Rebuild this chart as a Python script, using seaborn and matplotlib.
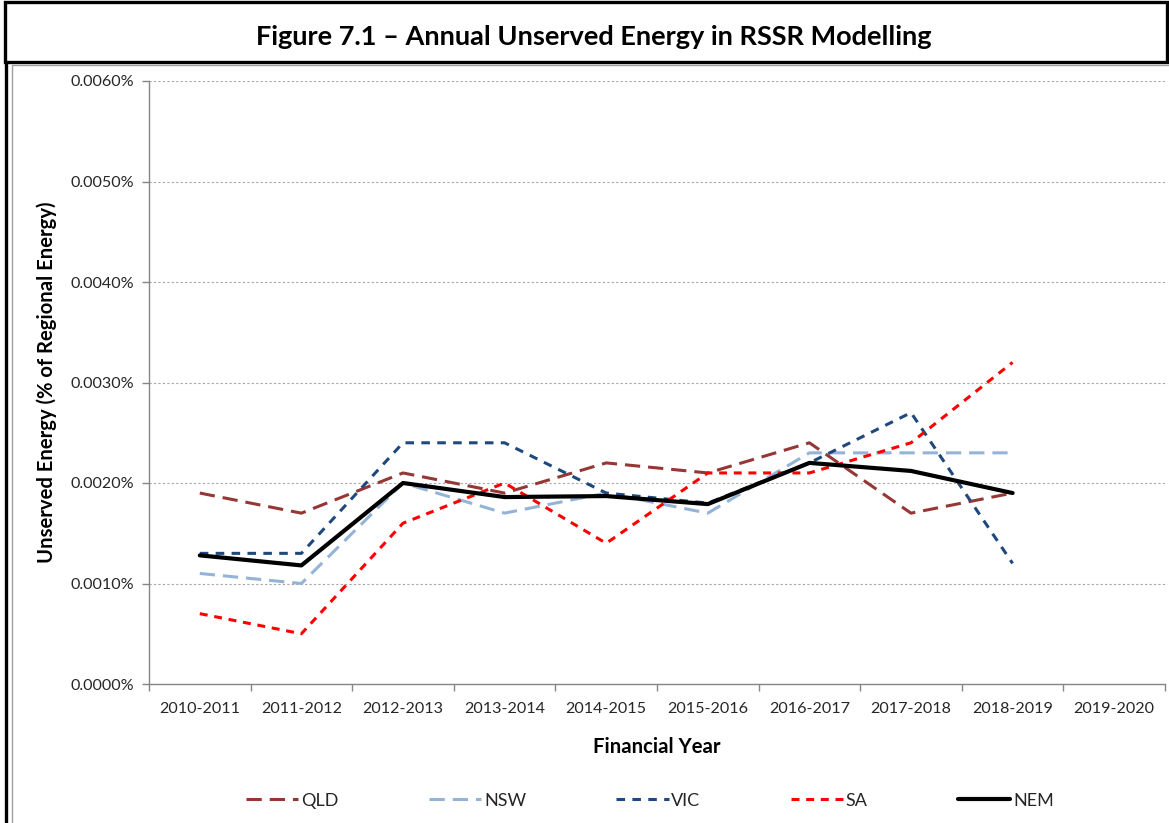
import matplotlib
matplotlib.use('Agg')
import matplotlib.pyplot as plt
import matplotlib.ticker as mticker
from matplotlib.patches import Rectangle
from matplotlib.lines import Line2D
import seaborn as sns
import numpy as np

# financial years on the x axis
years = ['2010-2011', '2011-2012', '2012-2013', '2013-2014', '2014-2015',
         '2015-2016', '2016-2017', '2017-2018', '2018-2019', '2019-2020']

# unserved energy, % of regional energy (no value for 2019-2020)
qld = [0.0019, 0.0017, 0.0021, 0.0019, 0.0022, 0.0021, 0.0024, 0.0017, 0.0019, np.nan]
nsw = [0.0011, 0.0010, 0.0020, 0.0017, 0.0019, 0.0017, 0.0023, 0.0023, 0.0023, np.nan]
vic = [0.0013, 0.0013, 0.0024, 0.0024, 0.0019, 0.0018, 0.0022, 0.0027, 0.0012, np.nan]
sa = [0.0007, 0.0005, 0.0016, 0.0020, 0.0014, 0.0021, 0.0021, 0.0024, 0.0032, np.nan]
nem = [0.00128, 0.00118, 0.0020, 0.00186, 0.00187, 0.00179, 0.0022, 0.00212, 0.0019, np.nan]

sns.set_theme(style='white')
plt.rcParams['font.family'] = ['Lato', 'DejaVu Sans']

fig = plt.figure(figsize=(11.69, 8.23), dpi=100)
ax = fig.add_axes([149 / 1169, 139 / 823, 1016 / 1169, 603 / 823])

xpos = np.arange(len(years))
series = [
    ('QLD', qld, '#953735', 2.2, (0, (5, 2.6))),
    ('NSW', nsw, '#95b3d7', 2.2, (0, (5, 2.6))),
    ('VIC', vic, '#1f497d', 2.2, (0, (2.8, 2.4))),
    ('SA', sa, '#ff0000', 2.2, (0, (2.6, 2.2))),
    ('NEM', nem, '#000000', 3.0, '-'),
]
for name, vals, col, lw, ls in series:
    sns.lineplot(x=xpos, y=vals, ax=ax, color=col, linewidth=lw,
                 linestyle=ls, label=name, legend=False)

# axes limits and ticks
ax.set_xlim(-0.5, len(years) - 0.5)
ax.set_ylim(0, 0.006)
ax.set_yticks(np.arange(0, 0.0061, 0.001))
ax.yaxis.set_major_formatter(mticker.FuncFormatter(lambda v, p: f'{v:.4f}%'))
ax.set_xticks(np.arange(-0.5, len(years), 1))
ax.set_xticklabels([])
ax.set_xticks(xpos, minor=True)
ax.set_xticklabels(years, minor=True)
ax.tick_params(axis='x', which='major', direction='out', length=5,
               width=1, color='#868686', bottom=True)
ax.tick_params(axis='x', which='minor', length=0, pad=13,
               labelsize=11.6, labelcolor='#262626')
ax.tick_params(axis='y', direction='out', length=5, width=1, color='#868686',
               left=True, pad=6, labelsize=11.6, labelcolor='#262626')

ax.yaxis.grid(True, color='#a6a6a6', linestyle=(0, (2, 2)), linewidth=0.8)
ax.xaxis.grid(False)
for s in ['top', 'right']:
    ax.spines[s].set_visible(False)
for s in ['left', 'bottom']:
    ax.spines[s].set_color('#868686')
    ax.spines[s].set_linewidth(1)

ax.set_xlabel('Financial Year', fontsize=14.6, fontweight='bold', color='black')
ax.set_ylabel('Unserved Energy (% of Regional Energy)', fontsize=14.6,
              fontweight='bold', color='black')
ax.xaxis.set_label_coords(0.5, -0.1045)
ax.xaxis.label.set_va('center')
ax.yaxis.set_label_coords(-0.1004, 0.5)
ax.yaxis.label.set_va('center')
ax.yaxis.label.set_ha('center')

# legend along the bottom
handles = [Line2D([], [], color=c, linewidth=lw, linestyle=ls) for _, _, c, lw, ls in series]
fig.legend(handles, [s[0] for s in series], loc='center', ncol=5,
           bbox_to_anchor=(0.556, 0.027), frameon=False, fontsize=13,
           handlelength=2.9, handletextpad=0.15, columnspacing=5.0)

# title box and borders
fig.add_artist(Rectangle((5 / 1169, 761 / 823), 1162 / 1169, 60 / 823,
                         transform=fig.transFigure, fill=False,
                         edgecolor='black', linewidth=2.4))
fig.add_artist(Line2D([6 / 1169, 6 / 1169], [0, 761 / 823],
                      transform=fig.transFigure, color='black', linewidth=2.4))
fig.add_artist(Line2D([12 / 1169, 12 / 1169, 1], [0, 758 / 823, 758 / 823],
                      transform=fig.transFigure, color='#a0a0a0', linewidth=1))
fig.text(594 / 1169, 786 / 823, 'Figure 7.1 \u2013 Annual Unserved Energy in RSSR Modelling',
         ha='center', va='center', fontsize=19.5, fontweight='bold', color='black')

plt.savefig('out.png', dpi=100)
